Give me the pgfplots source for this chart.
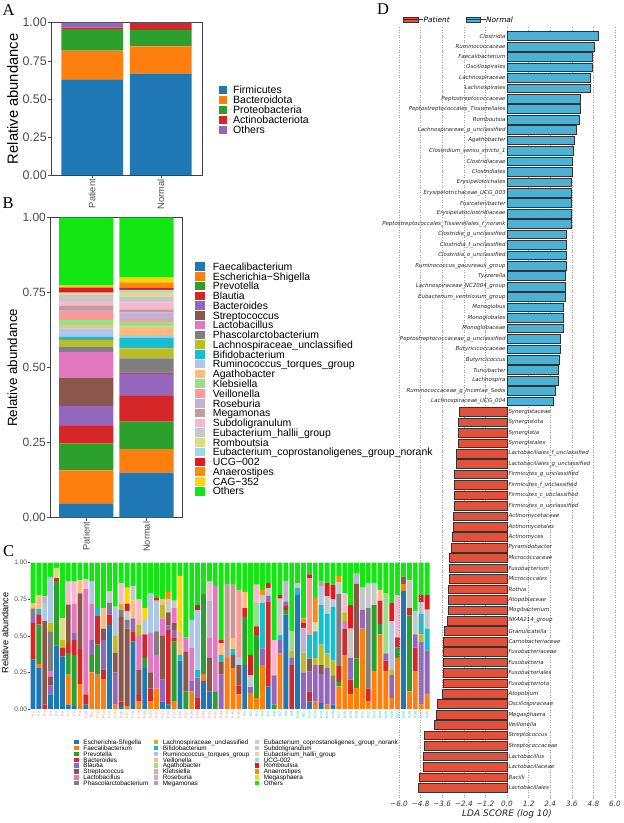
\documentclass[border=0pt]{standalone}
\usepackage{pgfplots}
\pgfplotsset{compat=1.18}
\usepackage{pgfplotstable}
\usepackage{fontspec}
\setmainfont{Liberation Sans}
\newfontfamily\dejavu{DejaVu Sans}
\newfontfamily\letterfont{Liberation Serif}

% palette shared by panels A-C
\definecolor{c1}{HTML}{1F77B4}
\definecolor{c2}{HTML}{FF7F0E}
\definecolor{c3}{HTML}{2CA02C}
\definecolor{c4}{HTML}{D62728}
\definecolor{c5}{HTML}{9467BD}
\definecolor{c6}{HTML}{8C564B}
\definecolor{c7}{HTML}{E377C2}
\definecolor{c8}{HTML}{7F7F7F}
\definecolor{c9}{HTML}{BCBD22}
\definecolor{c10}{HTML}{17BECF}
\definecolor{c11}{HTML}{AEC7E8}
\definecolor{c12}{HTML}{FFBB78}
\definecolor{c13}{HTML}{98DF8A}
\definecolor{c14}{HTML}{FF9896}
\definecolor{c15}{HTML}{C5B0D5}
\definecolor{c16}{HTML}{C49C94}
\definecolor{c17}{HTML}{F7B6D2}
\definecolor{c18}{HTML}{C7C7C7}
\definecolor{c19}{HTML}{DBDB8D}
\definecolor{c20}{HTML}{9EDAE5}
\definecolor{c21}{HTML}{E31A1C}
\definecolor{c22}{HTML}{FF8C00}
\definecolor{c23}{HTML}{FFD700}
\definecolor{c24}{HTML}{14E614}
\definecolor{tickgray}{HTML}{4D4D4D}
\definecolor{normalc}{HTML}{4CB2D5}
\definecolor{patientc}{HTML}{E0523C}
\definecolor{pcol}{HTML}{F8766D}
\definecolor{ncol}{HTML}{00BFC4}

% A: phylum level
\pgfplotstableread{
x f b p a o
1 0.624 0.192 0.143 0.008 0.033
2 0.663 0.182 0.107 0.045 0.003
}\tabA

% B: genus level, group means
\pgfplotstableread{
x t1 t2 t3 t4 t5 t6 t7 t8 t9 t10 t11 t12 t13 t14 t15 t16 t17 t18 t19 t20 t21 t22 t23 t24
1  0.046 0.112 0.090 0.058 0.066 0.095  0.086 0.017 0.022 0.011 0.028 0.011  0.017 0.030 0.003 0.014 0.016 0.020  0.005 0.003 0.015 0.005 0.005 0.225
2  0.150 0.079 0.091 0.086 0.073 0.005  0.002 0.045 0.033 0.036 0.009 0.028  0.016 0.009 0.022 0.010 0.024 0.019  0.016 0.006 0.008 0.017 0.016 0.200
}\tabB

% C: genus level per sample (1-36 patients, 37-68 normals)
\pgfplotstableread{
x t1 t2 t3 t4 t5 t6 t7 t8 t9 t10 t11 t12 t13 t14 t15 t16 t17 t18 t19 t20 t21 t22 t23 t24
1  0.337 0 0 0.25 0.05 0  0 0.05 0 0 0 0.037  0 0 0 0 0 0  0 0 0 0 0 0.276
2  0.28 0.027 0.27 0.07 0 0  0 0 0 0.035 0 0.095  0 0 0 0 0 0  0 0 0 0 0 0.223
3  0 0 0 0.03 0 0.57  0 0 0 0 0.125 0  0 0 0.045 0 0 0  0 0 0 0 0 0.23
4  0.10 0 0 0 0.06 0.06  0.04 0.27 0.06 0 0.30 0  0 0 0.01 0 0 0  0 0 0 0 0 0.10
5  0.435 0 0.44 0.02 0 0  0 0 0 0 0 0  0 0 0 0 0 0  0.07 0 0 0 0 0.035
6  0.36 0 0 0.06 0 0  0 0 0.05 0 0 0  0 0 0 0 0 0  0.15 0 0 0 0 0.38
7  0.03 0.205 0.148 0.068 0 0.262  0 0 0 0 0 0  0 0 0 0 0.16 0  0 0 0 0 0 0.127
8  0.02 0 0.35 0.10 0.05 0  0.20 0 0 0 0 0  0 0 0 0 0.15 0  0 0 0 0 0 0.13
9  0 0.17 0 0.24 0 0.38  0 0 0 0 0 0.09  0 0 0 0 0 0  0 0 0 0 0 0.12
10  0.03 0 0 0.07 0 0  0.72 0 0 0 0 0  0 0 0 0 0.07 0  0 0 0 0 0 0.11
11  0 0.25 0.12 0 0.10 0  0.25 0 0 0 0.15 0  0 0 0 0 0 0  0 0 0 0 0 0.13
12  0 0.235 0.205 0.195 0 0  0 0 0 0.055 0 0  0 0 0 0 0 0  0 0 0 0 0 0.31
13  0 0.20 0 0.07 0.20 0.08  0 0 0 0 0 0.14  0 0 0 0 0 0  0 0 0 0 0 0.31
14  0.575 0 0 0.07 0.04 0  0 0.04 0 0 0 0  0 0 0 0 0 0.08  0 0 0 0 0 0.195
15  0 0.03 0 0 0.22 0.135  0 0 0.115 0 0.20 0  0 0 0 0 0 0  0 0 0 0 0 0.30
16  0.02 0 0 0.03 0 0.58  0 0.05 0.04 0 0 0  0 0 0 0 0.14 0  0 0 0 0 0 0.14
17  0 0.02 0 0 0 0.53  0 0.06 0 0 0 0  0 0 0 0 0 0.06  0 0 0.05 0 0.11 0.17
18  0.46 0 0 0.07 0.09 0  0 0 0 0 0 0.12  0 0 0 0 0 0.10  0 0 0 0 0 0.16
19  0 0.05 0 0.045 0 0.17  0.24 0 0.07 0 0 0.035  0 0 0 0 0.14 0  0 0 0 0 0 0.25
20  0.28 0 0.07 0.16 0 0  0 0 0 0 0.10 0  0 0 0 0 0 0  0 0 0 0 0.08 0.31
21  0 0.05 0 0.09 0 0.11  0.27 0 0 0 0.27 0  0 0 0 0 0 0  0 0 0 0 0 0.21
22  0 0.14 0 0 0 0  0.23 0.16 0 0 0.21 0  0 0 0 0 0 0  0 0 0.02 0 0 0.24
23  0.05 0 0 0 0.15 0.30  0.12 0 0.09 0 0 0.04  0 0 0 0 0 0  0 0 0 0 0 0.25
24  0.03 0 0 0.51 0.03 0.09  0 0 0 0 0 0  0 0 0 0 0 0.09  0 0 0 0.05 0 0.20
25  0 0.05 0.41 0.03 0.05 0.05  0.10 0 0 0 0 0  0 0 0 0 0 0.05  0 0 0 0 0 0.26
26  0.33 0 0 0 0 0  0 0 0 0.04 0 0.16  0 0 0 0 0 0  0 0 0 0 0.38 0.09
27  0 0 0.12 0 0 0.27  0.10 0 0 0 0 0  0 0 0 0 0 0  0 0 0 0 0 0.51
28  0 0.12 0 0 0.07 0  0.23 0 0 0 0.19 0  0 0 0 0 0 0  0 0 0 0 0 0.39
29  0 0 0 0.075 0.14 0  0 0 0 0.05 0.41 0  0 0 0 0 0 0  0 0 0.035 0 0 0.29
30  0.19 0.05 0.55 0 0 0  0 0 0 0 0 0  0 0 0 0 0 0  0 0 0 0 0 0.21
31  0.12 0 0 0 0 0.23  0.14 0 0 0 0 0  0 0 0.25 0 0.13 0  0 0 0 0 0 0.13
32  0 0 0.12 0 0 0  0.72 0 0 0 0 0  0 0 0 0 0 0  0 0 0 0 0 0.16
33  0 0 0 0 0.235 0.09  0 0 0 0.045 0 0.08  0 0 0 0 0 0  0 0 0.02 0 0 0.53
34  0 0.35 0 0 0 0  0 0 0 0 0 0  0 0 0 0.50 0 0  0 0 0 0 0 0.15
35  0 0.28 0 0 0 0.09  0 0 0 0.04 0 0.075  0 0 0 0.37 0 0  0 0 0 0 0 0.145
36  0 0.10 0 0.06 0 0.14  0 0 0 0 0.055 0  0 0.46 0 0 0 0  0 0 0 0 0 0.185
37  0.30 0 0.33 0.06 0 0  0 0 0 0 0 0.11  0 0 0 0 0 0  0 0 0 0 0 0.20
38  0 0.11 0 0 0.04 0  0 0 0 0 0 0  0 0 0 0 0 0.08  0 0 0.14 0 0 0.63
39  0 0.075 0.43 0.06 0 0  0 0 0 0 0 0  0.16 0 0 0 0.125 0  0 0 0 0 0 0.15
40  0 0.30 0 0 0.115 0  0 0 0 0.31 0 0  0 0 0 0 0 0.055  0 0 0 0.035 0 0.185
41  0.155 0 0 0.58 0.04 0  0 0 0 0 0 0  0 0 0 0 0 0.05  0 0 0.035 0 0 0.14
42  0 0 0.03 0 0.20 0  0 0 0 0 0 0  0 0 0 0 0.24 0  0 0 0 0 0 0.53
43  0 0.38 0 0 0.09 0  0 0 0 0.035 0 0  0 0 0 0 0 0.25  0 0 0.025 0 0 0.22
44  0.645 0 0.03 0.03 0.03 0  0 0 0 0 0 0  0 0 0.14 0 0 0  0 0 0 0 0 0.125
45  0 0 0 0.30 0.05 0  0 0 0.05 0 0 0  0.13 0 0 0 0 0  0 0 0 0 0 0.47
46  0.78 0 0 0 0 0  0 0 0 0.05 0 0  0 0 0 0 0 0.03  0 0 0 0 0 0.14
47  0 0 0 0 0.25 0  0 0 0.135 0 0 0  0 0 0.17 0 0 0  0 0 0.035 0.03 0 0.38
48  0.05 0 0 0.07 0.135 0.09  0 0 0 0.16 0 0  0 0.39 0 0 0 0  0 0 0.025 0 0 0.08
49  0 0.05 0 0 0.25 0  0 0 0.05 0.18 0 0  0 0 0 0 0 0  0.06 0 0 0.17 0 0.24
50  0.04 0 0 0 0.20 0.06  0 0 0.14 0.27 0.13 0  0 0 0 0.03 0 0  0 0 0 0 0 0.13
51  0 0.03 0 0 0.25 0  0 0 0.10 0.27 0 0  0 0 0 0 0 0.12  0 0 0.09 0 0 0.14
52  0.03 0 0 0 0.14 0  0 0.06 0.10 0.37 0.05 0  0 0 0 0 0 0  0 0 0.10 0 0 0.15
53  0 0.155 0.03 0.11 0 0  0 0.49 0 0 0 0  0 0 0 0 0 0.08  0 0 0 0.045 0 0.09
54  0 0.37 0 0.18 0 0  0.05 0 0.06 0 0 0  0 0 0 0 0.13 0  0 0 0 0 0 0.21
55  0 0.10 0 0.10 0.15 0  0 0 0 0 0 0  0 0 0 0 0 0.20  0 0 0.16 0 0 0.29
56  0 0.145 0.20 0 0 0.51  0 0 0 0 0 0  0 0 0.07 0 0 0  0 0 0 0 0 0.075
57  0 0.55 0 0 0.13 0  0 0 0 0 0 0  0 0 0 0 0 0.15  0 0 0 0 0 0.17
58  0 0.05 0 0.09 0 0  0 0.55 0 0 0 0  0 0 0 0 0 0.17  0 0 0 0 0 0.14
59  0 0.26 0.45 0 0 0  0 0 0 0 0 0  0 0 0 0 0 0.15  0 0 0 0 0 0.14
60  0 0.51 0.07 0.16 0 0  0 0 0 0 0 0.075  0 0 0 0 0 0  0 0 0 0 0 0.185
61  0 0.26 0 0.07 0.05 0  0 0 0 0 0 0  0.41 0 0 0 0 0  0 0 0 0 0 0.21
62  0 0.075 0 0 0.16 0  0 0 0.035 0 0.33 0  0 0 0 0 0 0  0 0 0.125 0 0 0.275
63  0 0.35 0.07 0.07 0 0  0 0 0 0 0 0  0 0 0 0 0.29 0  0 0 0 0 0 0.22
64  0.805 0.05 0 0 0 0.05  0 0 0 0 0 0  0 0 0 0 0 0  0 0 0 0 0 0.095
65  0 0.12 0.52 0.05 0 0  0 0 0 0 0 0  0 0 0 0 0 0.19  0 0 0 0 0 0.12
66  0 0.26 0 0.16 0.09 0  0 0 0 0 0 0  0 0 0 0 0 0.16  0 0 0 0 0 0.33
67  0 0.03 0 0 0.43 0  0 0 0.05 0.14 0 0  0 0 0 0 0 0.08  0 0 0.05 0 0 0.22
68  0 0.10 0 0 0.30 0  0 0 0 0.15 0 0  0 0 0 0 0 0.13  0 0 0.10 0 0 0.22
}\tabC

% D: LDA scores, enriched in Normal
\pgfplotstableread{
y v name
73 5.05 Clostridia
72 4.83 Ruminococcaceae
71 4.76 Faecalibacterium
70 4.76 Oscillospirales
69 4.65 Lachnospiraceae
68 4.65 Lachnospirales
67 4.09 Peptostreptococcaceae
66 4.09 Peptostreptococcales\_Tissierellales
65 4.02 Romboutsia
64 3.83 Lachnospiraceae\_g\_unclassified
63 3.74 Agathobacter
62 3.69 Clostridium\_sensu\_stricto\_1
61 3.65 Clostridiaceae
60 3.65 Clostridiales
59 3.59 Erysipelotrichales
58 3.59 Erysipelotrichaceae\_UCG\_003
57 3.57 Fusicatenibacter
56 3.57 Erysipelatoclostridiaceae
55 3.57 Peptostreptococcales\_Tissierellales\_f\_norank
54 3.31 Clostridia\_g\_unclassified
53 3.31 Clostridia\_f\_unclassified
52 3.31 Clostridia\_o\_unclassified
51 3.28 Ruminococcus\_gauvreauii\_group
50 3.26 Tyzzerella
49 3.24 Lachnospiraceae\_NC2004\_group
48 3.22 Eubacterium\_ventriosum\_group
47 3.10 Monoglobus
46 3.10 Monoglobales
45 3.10 Monoglobaceae
44 2.94 Peptostreptococcaceae\_g\_unclassified
43 2.93 Butyricicoccaceae
42 2.91 Butyricicoccus
41 2.87 Turicibacter
40 2.83 Lachnospira
39 2.69 Ruminococcaceae\_g\_Incertae\_Sedis
38 2.57 Lachnospiraceae\_UCG\_004
}\tabN

% D: LDA scores, enriched in Patient
\pgfplotstableread{
y v name
37 -2.65 Synergistaceae
36 -2.69 Synergistota
35 -2.69 Synergistia
34 -2.72 Synergistales
33 -2.83 Lactobacillales\_f\_unclassified
32 -2.83 Lactobacillales\_g\_unclassified
31 -2.94 Firmicutes\_g\_unclassified
30 -2.94 Firmicutes\_f\_unclassified
29 -2.94 Firmicutes\_c\_unclassified
28 -2.94 Firmicutes\_o\_unclassified
27 -2.98 Actinomycetaceae
26 -2.98 Actinomycetales
25 -3.04 Actinomyces
24 -3.11 Pyramidobacter
23 -3.20 Micrococcaceae
22 -3.22 Fusobacterium
21 -3.22 Micrococcales
20 -3.24 Rothia
19 -3.26 Atopobiaceae
18 -3.28 Mogibacterium
17 -3.31 NK4A214\_group
16 -3.48 Granulicatella
15 -3.52 Carnobacteriaceae
14 -3.54 Fusobacteriaceae
13 -3.54 Fusobacteria
12 -3.56 Fusobacteriales
11 -3.56 Fusobacteriota
10 -3.59 Atopobium
9 -3.87 Oscillospiraceae
8 -3.93 Megasphaera
7 -4.02 Veillonella
6 -4.59 Streptococcus
5 -4.59 Streptococcaceae
4 -4.65 Lactobacillus
3 -4.65 Lactobacillaceae
2 -4.89 Bacilli
1 -4.92 Lactobacillales
}\tabP

\pgfplotsset{
  ggbox/.style={
    scale only axis, enlargelimits=false,
    ybar stacked, bar width=0.9,
    xmin=0.4, xmax=2.6, ymin=0, ymax=1,
    xtick={1,2}, xticklabels={Patient,Normal},
    ytick={0,0.25,0.5,0.75,1}, yticklabels={0.00,0.25,0.50,0.75,1.00},
    tick align=outside, tick pos=left, major tick length=3bp,
    tick style={draw=tickgray, line width=0.5pt},
    axis line style={draw=black!75, line width=0.6pt},
    xticklabel style={font=\fontsize{9.3}{10}\selectfont, text=tickgray, rotate=90, anchor=east, inner sep=1bp},
    ylabel={Relative abundance},
    legend cell align=left,
  },
}

\begin{document}
\begin{tikzpicture}
\useasboundingbox (0,0) rectangle (624bp,823bp);

% ---------- A ----------
\begin{axis}[ggbox,
  at={(51bp,648bp)}, anchor=south west,
  width=151bp, height=152.3bp,
  yticklabel style={font=\fontsize{12.5}{14}\selectfont, text=tickgray, inner sep=1bp},
  every axis y label/.style={at={(axis description cs:-0.255,0.5)}, rotate=90, anchor=center,
    font=\fontsize{14.8}{16}\selectfont},
  legend style={draw=none, fill=none, inner sep=0pt, at={(1.108,0.5896)}, anchor=north west,
    row sep=1bp, font=\fontsize{10.6}{12}\selectfont,
    nodes={inner sep=0pt, text height=8.3bp, text depth=0.7bp}},
  legend image code/.code={\fill[#1] (0bp,-4.2bp) rectangle (8.4bp,4.2bp); \path (0bp,0bp) -- (14.6bp,0bp);},
]
\addplot[fill=c1, draw=none] table[x=x, y=f] {\tabA};
\addplot[fill=c2, draw=none] table[x=x, y=b] {\tabA};
\addplot[fill=c3, draw=none] table[x=x, y=p] {\tabA};
\addplot[fill=c4, draw=none] table[x=x, y=a] {\tabA};
\addplot[fill=c5, draw=none] table[x=x, y=o] {\tabA};
\legend{Firmicutes,Bacteroidota,Proteobacteria,Actinobacteriota,Others}
\end{axis}

% ---------- B ----------
\begin{axis}[ggbox,
  at={(50bp,305.3bp)}, anchor=south west,
  width=132.7bp, height=300bp,
  yticklabel style={font=\fontsize{12}{14}\selectfont, text=tickgray, inner sep=1bp},
  every axis y label/.style={at={(axis description cs:-0.283,0.5)}, rotate=90, anchor=center,
    font=\fontsize{13.4}{15}\selectfont},
  legend style={draw=none, fill=none, inner sep=0pt, at={(1.0927,0.853)}, anchor=north west,
    row sep=0.77bp, font=\fontsize{10.5}{12}\selectfont,
    nodes={inner sep=0pt, text height=8.25bp, text depth=0.75bp}},
  legend image code/.code={\fill[#1] (0bp,-4.3bp) rectangle (10bp,4.3bp); \path (0bp,0bp) -- (17.6bp,0bp);},
]
\pgfplotsinvokeforeach{1,...,24}{
  \addplot[fill=c#1, draw=none] table[x=x, y=t#1] {\tabB};
}
\legend{Faecalibacterium,Escherichia−Shigella,Prevotella,Blautia,Bacteroides,Streptococcus,
  Lactobacillus,Phascolarctobacterium,Lachnospiraceae\_unclassified,Bifidobacterium,
  Ruminococcus\_torques\_group,Agathobacter,Klebsiella,Veillonella,Roseburia,Megamonas,
  Subdoligranulum,Eubacterium\_hallii\_group,Romboutsia,Eubacterium\_coprostanoligenes\_group\_norank,
  UCG−002,Anaerostipes,CAG−352,Others}
\end{axis}

% ---------- C ----------
\begin{axis}[
  at={(30bp,114bp)}, anchor=south west, scale only axis, enlargelimits=false,
  width=400bp, height=146.3bp,
  ybar stacked, bar width=0.83,
  xmin=0.5, xmax=68.5, ymin=0, ymax=1,
  axis lines*=left, axis line style={draw=none},
  ytick={0,0.25,0.5,0.75,1}, yticklabels={0.00,0.25,0.50,0.75,1.00},
  tick align=outside, major tick length=2bp,
  y tick style={draw=tickgray, line width=0.4pt},
  x tick style={draw=none},
  yticklabel style={font=\fontsize{6.5}{7}\selectfont, text=tickgray, inner sep=0.8bp},
  xtick={1,...,36},
  xticklabels={P1,P2,P3,P4,P5,P6,P7,P8,P9,P10,P11,P12,P13,P14,P15,P16,P17,P18,P19,P20,
    P21,P22,P23,P24,P25,P26,P27,P28,P29,P30,P31,P32,P33,P34,P35,P36},
  xticklabel style={font=\fontsize{3.4}{4}\selectfont, text=pcol, rotate=90, anchor=east, inner sep=0.8bp},
  extra x ticks={37,...,68},
  extra x tick labels={N1,N2,N3,N4,N5,N6,N7,N8,N9,N10,N11,N12,N13,N14,N15,N16,
    N17,N18,N19,N20,N21,N22,N23,N24,N25,N26,N27,N28,N29,N30,N31,N32},
  extra x tick style={xticklabel style={text=ncol}},
  ylabel={Relative abundance},
  every axis y label/.style={at={(axis description cs:-0.0625,0.52)}, rotate=90, anchor=center,
    font=\fontsize{9.2}{10}\selectfont},
  legend columns=8, transpose legend, legend cell align=left,
  legend style={draw=none, fill=none, inner sep=0pt, at={(0.11,-0.2064)}, anchor=north west,
    row sep=0.26bp, font=\fontsize{6.4}{7}\selectfont,
    nodes={inner sep=0pt, text height=5.1bp, text depth=0.5bp},
    /tikz/every even column/.append style={column sep=5.2bp}},
  legend image code/.code={\fill[#1] (0bp,-2.2bp) rectangle (4.4bp,2.2bp); \path (0bp,0bp) -- (9.3bp,0bp);},
]
\pgfplotsinvokeforeach{1,...,24}{
  \addplot[fill=c#1, draw=none] table[x=x, y=t#1] {\tabC};
}
\legend{Escherichia-Shigella,Faecalibacterium,Prevotella,Bacteroides,Blautia,Streptococcus,
  Lactobacillus,Phascolarctobacterium,Lachnospiraceae\_unclassified,Bifidobacterium,
  Ruminococcus\_torques\_group,Veillonella,Agathobacter,Klebsiella,Roseburia,Megamonas,
  Eubacterium\_coprostanoligenes\_group\_norank,Subdoligranulum,Eubacterium\_hallii\_group,
  UCG-002,Romboutsia,Anaerostipes,Megasphaera,Others}
\end{axis}

% ---------- D ----------
\begin{axis}[
  at={(399bp,25bp)}, anchor=south west, scale only axis, enlargelimits=false,
  width=216bp, height=772.44bp,
  xmin=-6, xmax=6, ymin=0, ymax=74,
  clip=false,
  axis line style={draw=none},
  ytick=\empty,
  xtick={-6,-4.8,-3.6,-2.4,-1.2,0,1.2,2.4,3.6,4.8,6},
  xticklabels={−6.0,−4.8,−3.6,−2.4,−1.2,0.0,1.2,2.4,3.6,4.8,6.0},
  major tick length=0pt,
  xmajorgrids, grid style={draw=gray!75, line width=0.5pt, dash pattern=on 0.8bp off 1.7bp},
  xticklabel style={font=\dejavu\itshape\fontsize{7.3}{8}\selectfont, text=black!80, anchor=north, inner sep=0pt, yshift=-2.5bp},
  xlabel={LDA SCORE (log 10)},
  xlabel style={font=\dejavu\itshape\fontsize{9}{10}\selectfont, text=black!85},
  legend columns=2, legend cell align=left,
  legend style={draw=none, fill=none, inner sep=0pt, at={(0.0185,1.0126)}, anchor=north west,
    font=\dejavu\itshape\fontsize{7.4}{8}\selectfont,
    nodes={inner sep=0pt, text height=6.2bp, text depth=0.8bp}},
  legend image code/.code={\draw[#1] (0bp,-2.7bp) rectangle (14.5bp,2.7bp); \path (0bp,0bp) -- (20bp,0bp);},
]
\addplot[xbar, bar width=0.83, fill=patientc, draw=black!80, line width=0.5pt]
  table[x=v, y=y] {\tabP};
\addplot[xbar, bar width=0.83, fill=normalc, draw=black!80, line width=0.5pt]
  table[x=v, y=y] {\tabN};
\addplot[draw=none, forget plot, point meta=explicit symbolic, nodes near coords={\pgfplotspointmeta},
  every node near coord/.append style={anchor=east, inner sep=1.3bp, font=\dejavu\itshape\fontsize{5.5}{6}\selectfont, text=black!85}]
  table[x expr=0, y=y, meta=name] {\tabN};
\addplot[draw=none, forget plot, point meta=explicit symbolic, nodes near coords={\pgfplotspointmeta},
  every node near coord/.append style={anchor=west, inner sep=1.3bp, font=\dejavu\itshape\fontsize{5.5}{6}\selectfont, text=black!85}]
  table[x expr=0, y=y, meta=name] {\tabP};
\legend{\makebox[42bp][l]{Patient},Normal}
\end{axis}

% panel letters
\node[anchor=base west, inner sep=0pt, font=\letterfont\fontsize{16.5}{18}\selectfont] at (2.5bp,807bp) {A};
\node[anchor=base west, inner sep=0pt, font=\letterfont\fontsize{16.5}{18}\selectfont] at (2.5bp,614bp) {B};
\node[anchor=base west, inner sep=0pt, font=\letterfont\fontsize{16.5}{18}\selectfont] at (3bp,266.5bp) {C};
\node[anchor=base west, inner sep=0pt, font=\letterfont\fontsize{16.5}{18}\selectfont] at (377bp,808bp) {D};
\end{tikzpicture}
\end{document}
